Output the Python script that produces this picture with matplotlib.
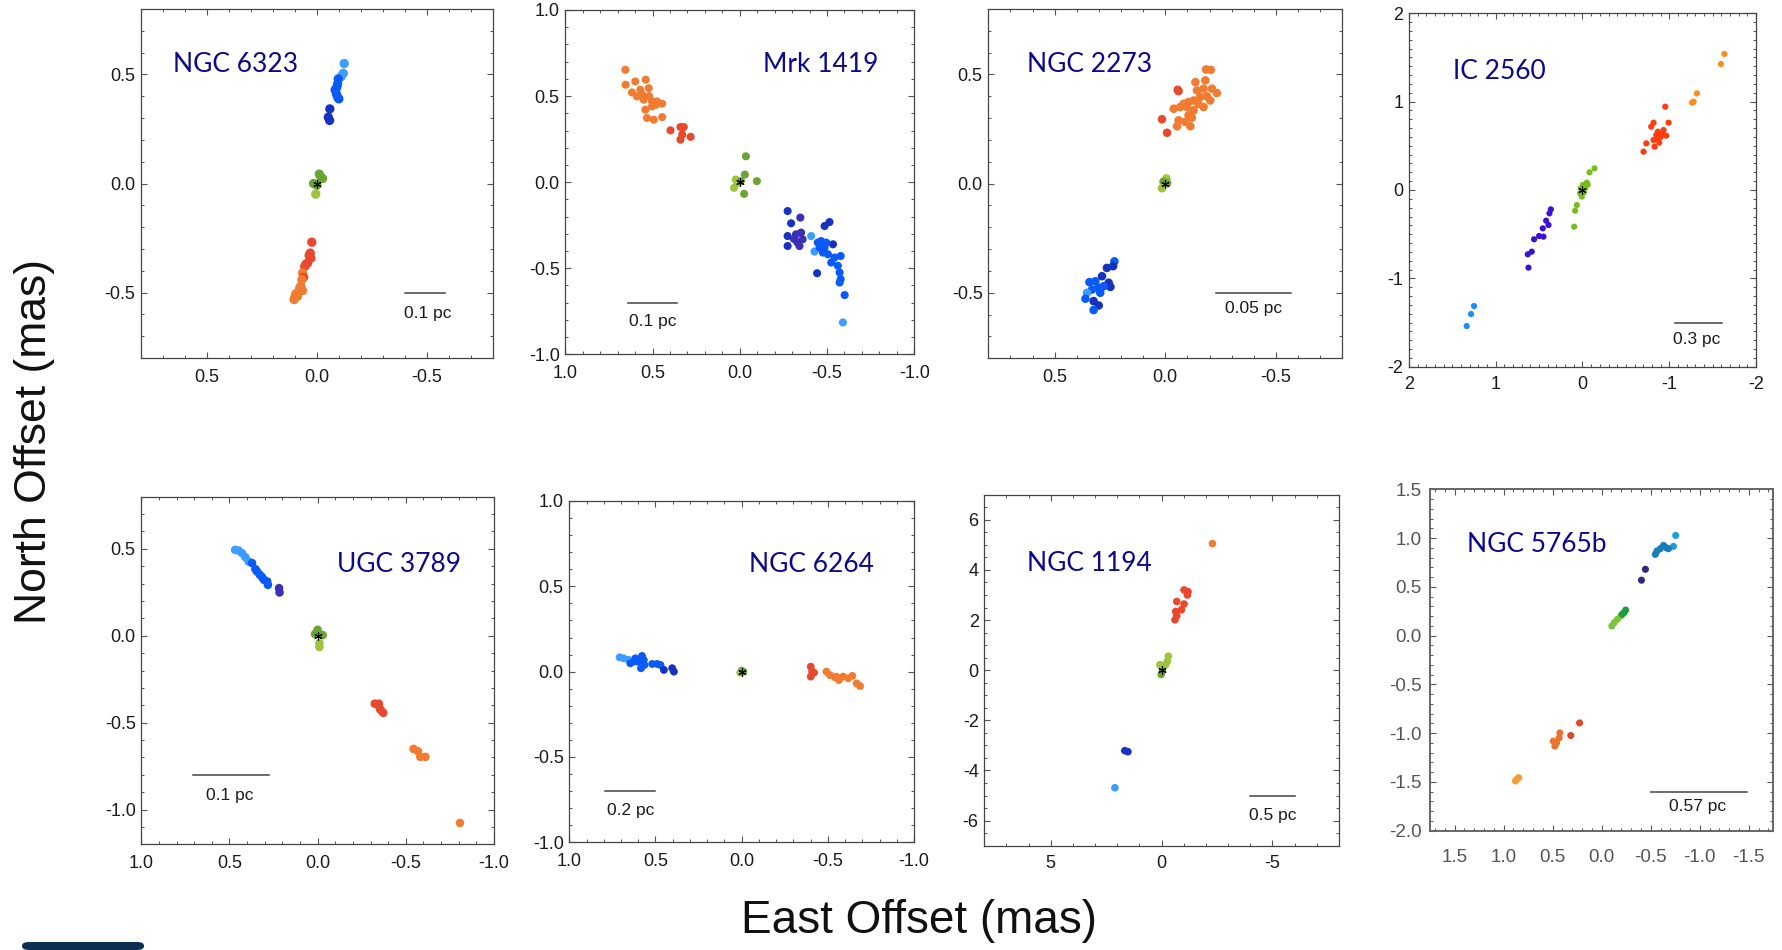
import numpy as np
import matplotlib
matplotlib.use('Agg')
import matplotlib.pyplot as plt
from matplotlib.ticker import MultipleLocator, FormatStrFormatter
from matplotlib.patches import FancyBboxPatch

plt.rcParams['font.family'] = ['Liberation Sans', 'DejaVu Sans']
plt.rcParams['axes.unicode_minus'] = False

W, H = 1783, 950

# colour codes used by the maser spots (velocity groups)
PALETTE = {
    'lb': '#3d9cff', 'b': '#0a5af5', 'db': '#1632c0', 'pu': '#3a30b5',
    'g': '#6aa533', 'lg': '#9ec43c', 'r': '#e8482b', 'o': '#f07c32',
    'vr': '#ff3c0f', 'vo': '#ff8c1e', 'vp': '#3a12d2', 'vb': '#1e8cff', 'vg': '#79bd1c',
    'tb': '#1aa0dc', 'tbd': '#1a7cbc', 'nv': '#2a2a80', 'dg': '#1f9a3c', 'mg': '#7cc23e',
    'rd8': '#e0482a', 'or8': '#e8742e', 'yo8': '#f0a035',
}

# ---- NGC 6323
ngc6323_east = [-0.124, -0.12, -0.11, -0.097, -0.094, -0.083, -0.089, -0.09, -0.1, -0.095,
                -0.059, -0.052, -0.058,
                -0.011, -0.026, 0.015, 0.0, 0.005, -0.018,
                0.023, 0.030, 0.027, 0.035, 0.042, 0.05, 0.055, 0.065, 0.06, 0.068,
                0.073, 0.078, 0.065, 0.095, 0.103, 0.088, 0.1]
ngc6323_north = [0.55, 0.505, 0.49, 0.479, 0.456, 0.429, 0.41, 0.44, 0.388, 0.395,
                 0.342, 0.304, 0.289,
                 0.043, 0.023, 0.0, -0.008, -0.049, 0.03,
                 -0.269, -0.319, -0.342, -0.33, -0.365, -0.37, -0.38, -0.41, -0.43, -0.441,
                 -0.471, -0.48, -0.491, -0.505, -0.532, -0.517, -0.52]
ngc6323_kind = ['lb', 'lb', 'lb', 'b', 'b', 'b', 'b', 'b', 'b', 'b',
                'db', 'db', 'db',
                'g', 'g', 'g', 'g', 'lg', 'g',
                'r', 'r', 'r', 'r', 'r', 'r', 'r', 'o', 'r', 'o',
                'o', 'o', 'o', 'o', 'o', 'o', 'o']

# ---- Mrk 1419
mrk1419_east = [0.656, 0.654, 0.599, 0.539, 0.618, 0.570, 0.522, 0.589, 0.551, 0.503, 0.474,
                0.445, 0.541, 0.503, 0.532, 0.493, 0.445, 0.56, 0.52, 0.48,
                0.397, 0.34, 0.321, 0.34, 0.282, 0.33,
                -0.035, -0.029, -0.098, -0.025, 0.023, 0.033, 0.013, -0.006,
                -0.274, -0.294, -0.347, -0.274, -0.274, -0.322, -0.351, -0.342, -0.36,
                -0.409, -0.428, -0.443, -0.486, -0.514, -0.466, -0.486, -0.505, -0.534,
                -0.543, -0.562, -0.578, -0.572, -0.578, -0.572, -0.601, -0.591,
                -0.457, -0.476, -0.524, -0.495, -0.447, -0.31, -0.33]
mrk1419_north = [0.653, 0.566, 0.585, 0.595, 0.521, 0.537, 0.546, 0.498, 0.479, 0.469, 0.469,
                 0.456, 0.421, 0.44, 0.373, 0.363, 0.378, 0.51, 0.5, 0.45,
                 0.301, 0.32, 0.32, 0.247, 0.263, 0.276,
                 0.15, 0.044, 0.006, -0.068, 0.015, -0.033, -0.004, 0.006,
                 -0.168, -0.239, -0.206, -0.313, -0.371, -0.303, -0.293, -0.371, -0.332,
                 -0.313, -0.403, -0.529, -0.255, -0.232, -0.342, -0.38, -0.419, -0.361,
                 -0.438, -0.486, -0.429, -0.525, -0.564, -0.583, -0.656, -0.815,
                 -0.38, -0.409, -0.467, -0.351, -0.351, -0.33, -0.35]
mrk1419_kind = ['o'] * 20 + ['r'] * 6 + ['g', 'g', 'g', 'g', 'lg', 'lg', 'lg', 'g'] + \
               ['db', 'db', 'pu', 'db', 'db', 'pu', 'pu', 'pu', 'pu',
                'lb', 'lb', 'db', 'db', 'db', 'b', 'b', 'b', 'db',
                'b', 'b', 'b', 'b', 'b', 'b', 'b', 'lb',
                'b', 'b', 'b', 'b', 'b', 'pu', 'pu']

# ---- NGC 2273
ngc2273_east = [-0.184, -0.206, -0.136, -0.181, -0.173, -0.211, -0.233, -0.203, -0.158, -0.128,
                -0.105, -0.083, -0.06, -0.056, -0.038, -0.068, -0.098, -0.128, -0.105, -0.12,
                -0.06, -0.09, -0.053, -0.113, 0.015, -0.008, -0.15, -0.173, -0.188, -0.143,
                -0.005, 0.008, 0.015, -0.008,
                0.23, 0.236, 0.264, 0.286, 0.256, 0.248, 0.316, 0.343, 0.301, 0.331,
                0.354, 0.361, 0.324, 0.301, 0.324, 0.279, 0.294]
ngc2273_north = [0.523, 0.521, 0.465, 0.473, 0.435, 0.435, 0.415, 0.381, 0.397, 0.381,
                 0.374, 0.366, 0.424, 0.43, 0.343, 0.351, 0.351, 0.336, 0.313, 0.302,
                 0.29, 0.283, 0.263, 0.263, 0.295, 0.233, 0.366, 0.351, 0.4, 0.427,
                 0.024, 0.009, -0.021, 0.002,
                 -0.356, -0.378, -0.386, -0.424, -0.454, -0.473, -0.447, -0.451, -0.477, -0.485,
                 -0.5, -0.527, -0.538, -0.558, -0.579, -0.47, -0.5]
ngc2273_kind = ['o'] * 12 + ['r', 'r'] + ['o'] * 10 + ['r', 'r'] + ['o'] * 4 + \
               ['lg', 'g', 'lg', 'g'] + \
               ['b', 'db', 'db', 'db', 'db', 'db', 'b', 'b', 'b', 'b',
                'lb', 'b', 'db', 'db', 'b', 'b', 'b']

# ---- IC 2560
ic2560_east = [-1.635, -1.596, -1.319, -1.281, -1.262,
               -0.954, -0.819, -0.792, -0.992, -0.935, -0.915, -0.869, -0.85, -0.965,
               -0.858, -0.819, -0.885, -0.831, -0.735, -0.704, -0.9,
               -0.138, -0.081, -0.05, -0.004, 0.019, -0.012, 0.008, 0.065, 0.085, 0.096,
               -0.031, 0.027, -0.06,
               0.365, 0.381, 0.419, 0.392, 0.458, 0.45, 0.5, 0.558, 0.585, 0.631, 0.623,
               1.25, 1.285, 1.335]
ic2560_north = [1.54, 1.426, 1.094, 1.0, 0.989,
                0.943, 0.762, 0.717, 0.762, 0.679, 0.634, 0.66, 0.623, 0.615,
                0.585, 0.566, 0.536, 0.491, 0.528, 0.434, 0.6,
                0.245, 0.2, 0.083, 0.057, 0.019, -0.03, -0.075, -0.17, -0.234, -0.415,
                0.019, -0.038, 0.06,
                -0.219, -0.264, -0.347, -0.396, -0.434, -0.528, -0.521, -0.558, -0.698,
                -0.728, -0.879,
                -1.313, -1.404, -1.54]
ic2560_kind = ['vo'] * 5 + ['vr'] * 16 + ['vg'] * 13 + ['vp'] * 11 + ['vb'] * 3

# ---- UGC 3789
ugc3789_east = [0.468, 0.448, 0.429, 0.41, 0.391, 0.372, 0.353, 0.344, 0.328, 0.315, 0.305,
                0.286, 0.282, 0.219, 0.216,
                0.0, 0.015, -0.029, -0.01, -0.01,
                -0.324, -0.347, -0.353, -0.372, -0.36,
                -0.544, -0.569, -0.582, -0.611, -0.807]
ugc3789_north = [0.494, 0.49, 0.475, 0.452, 0.427, 0.418, 0.383, 0.37, 0.351, 0.337, 0.322,
                 0.312, 0.293, 0.274, 0.249,
                 0.034, 0.01, 0.004, -0.042, -0.065,
                 -0.391, -0.391, -0.421, -0.444, -0.43,
                 -0.651, -0.665, -0.697, -0.697, -1.077]
ugc3789_kind = ['lb', 'lb', 'lb', 'lb', 'lb', 'b', 'b', 'b', 'b', 'b', 'b', 'b', 'b',
                'pu', 'pu',
                'g', 'g', 'g', 'lg', 'lg',
                'r', 'r', 'r', 'r', 'r',
                'o', 'o', 'o', 'o', 'o']

# ---- NGC 6264
ngc6264_east = [0.708, 0.685, 0.656, 0.646, 0.617, 0.603, 0.578, 0.568, 0.584, 0.564, 0.626,
                0.519, 0.49, 0.471, 0.451, 0.403, 0.393,
                0.0, 0.008, -0.01,
                -0.401, -0.409, -0.401, -0.42,
                -0.492, -0.512, -0.541, -0.564, -0.589, -0.619, -0.642, -0.667, -0.687, -0.55]
ngc6264_north = [0.084, 0.078, 0.069, 0.049, 0.078, 0.059, 0.092, 0.069, 0.02, 0.039, 0.059,
                 0.045, 0.045, 0.039, 0.01, 0.02, 0.0,
                 0.006, -0.006, 0.0,
                 0.029, 0.0, -0.029, -0.006,
                 0.0, -0.02, -0.033, -0.049, -0.029, -0.039, -0.025, -0.069, -0.084, -0.03]
ngc6264_kind = ['lb', 'lb', 'lb', 'b', 'b', 'b', 'b', 'b', 'b', 'b', 'b',
                'b', 'b', 'b', 'db', 'db', 'db',
                'g', 'lg', 'g',
                'r', 'r', 'r', 'r',
                'o', 'o', 'o', 'o', 'o', 'o', 'o', 'o', 'o', 'o']

# ---- NGC 1194
ngc1194_east = [-2.29,
                -1.01, -1.19, -1.16, -0.68, -1.01, -0.89, -0.63, -0.68, -0.6,
                -0.3, -0.26, -0.18, 0.08, -0.03, 0.02,
                1.66, 1.52, 2.11]
ngc1194_north = [5.05,
                 3.2, 3.13, 3.0, 2.74, 2.64, 2.41, 2.34, 2.17, 2.01,
                 0.56, 0.36, 0.22, 0.22, -0.04, -0.17,
                 -3.21, -3.25, -4.69]
ngc1194_kind = ['o'] + ['r'] * 9 + ['lg', 'lg', 'lg', 'lg', 'g', 'g'] + ['db', 'db', 'lb']

# ---- NGC 5765b
ngc5765b_east = [-0.755, -0.732, -0.681, -0.631, -0.597, -0.564, -0.547, -0.66,
                 -0.446, -0.406,
                 -0.245, -0.228, -0.195, -0.161, -0.128, -0.104, -0.21,
                 0.225, 0.315, 0.426, 0.433, 0.493, 0.46, 0.477,
                 0.846, 0.879, 0.862]
ngc5765b_north = [1.027, 0.915, 0.891, 0.925, 0.891, 0.867, 0.833, 0.9,
                  0.68, 0.568,
                  0.262, 0.235, 0.201, 0.167, 0.133, 0.099, 0.22,
                  -0.895, -1.024, -0.997, -1.048, -1.082, -1.099, -1.133,
                  -1.456, -1.49, -1.47]
ngc5765b_kind = ['tb', 'tb', 'tbd', 'tbd', 'tbd', 'tbd', 'tbd', 'tbd',
                 'nv', 'nv',
                 'dg', 'dg', 'mg', 'mg', 'mg', 'mg', 'dg',
                 'rd8', 'rd8', 'or8', 'or8', 'or8', 'or8', 'or8',
                 'yo8', 'yo8', 'yo8']

NAME_COLOR = '#0a0a8c'

fig = plt.figure(figsize=(W / 100, H / 100), dpi=100)


def panel(box, east, north, kind, name, name_pos, xlim, ylim, xmaj, xmin, ymaj, ymin,
          bar, bar_text, fmt='%.1f', size=30, gray=False, xpad=8, ypad=4):
    left, right, top, bottom = box
    ax = fig.add_axes([left / W, 1 - bottom / H, (right - left) / W, (bottom - top) / H])
    col = [PALETTE[k] for k in kind]
    ax.scatter(east, north, s=size, c=col, edgecolors='none', zorder=2)
    if not gray:
        ax.plot(0, 0, marker=(6, 2, 0), color='k', ms=6, mew=0.8, zorder=3)
    ax.set_xlim(*xlim)
    ax.set_ylim(*ylim)
    ax.xaxis.set_major_locator(MultipleLocator(xmaj))
    ax.xaxis.set_minor_locator(MultipleLocator(xmin))
    ax.yaxis.set_major_locator(MultipleLocator(ymaj))
    ax.yaxis.set_minor_locator(MultipleLocator(ymin))
    ax.xaxis.set_major_formatter(FormatStrFormatter(fmt))
    ax.yaxis.set_major_formatter(FormatStrFormatter(fmt))
    tc = '#555555' if gray else '#1a1a1a'
    fs = 13.5 if gray else 13
    ax.tick_params(which='both', direction='in', top=True, right=True, colors='#555555',
                   labelcolor=tc, labelsize=fs)
    ax.tick_params(axis='x', which='major', pad=xpad)
    ax.tick_params(axis='y', which='major', pad=ypad)
    ax.tick_params(which='major', length=4.5, width=0.8)
    ax.tick_params(which='minor', length=2.5, width=0.7)
    for s in ax.spines.values():
        s.set_color('#666666' if gray else '#444444')
        s.set_linewidth(1.4 if gray else 0.9)
    (bx0, bx1, by), (tx, ty, txt) = bar, bar_text
    ax.plot([bx0, bx1], [by, by], color='#444444', lw=1.1)
    ax.text(tx, ty, txt, ha='center', va='center', fontsize=12.5, color='#1a1a1a')
    ax.text(name_pos[0], name_pos[1], name, transform=ax.transAxes, ha='left', va='center',
            fontsize=19, color=NAME_COLOR, family=['Lato', 'DejaVu Sans'])
    return ax


panel((140.7, 493, 9, 358), ngc6323_east, ngc6323_north, ngc6323_kind, 'NGC 6323',
      (0.091, 0.84), (0.8, -0.8), (-0.8, 0.8), 0.5, 0.1, 0.5, 0.1,
      (-0.4, -0.58, -0.5), (-0.503, -0.594, '0.1 pc'), size=45)
panel((565.3, 914.3, 10, 354.3), mrk1419_east, mrk1419_north, mrk1419_kind, 'Mrk 1419',
      (0.566, 0.843), (1.0, -1.0), (-1.0, 1.0), 0.5, 0.1, 0.5, 0.1,
      (0.642, 0.362, -0.7), (0.5, -0.81, '0.1 pc'), size=34)
panel((988.3, 1342.3, 9, 358.3), ngc2273_east, ngc2273_north, ngc2273_kind, 'NGC 2273',
      (0.108, 0.842), (0.8, -0.8), (-0.8, 0.8), 0.5, 0.1, 0.5, 0.1,
      (-0.227, -0.567, -0.5), (-0.398, -0.573, '0.05 pc'), size=38)
panel((1409, 1756, 13.3, 366.7), ic2560_east, ic2560_north, ic2560_kind, 'IC 2560',
      (0.126, 0.835), (2, -2), (-2, 2), 1, 0.1, 1, 0.1,
      (-1.072, -1.61, -1.5), (-1.314, -1.69, '0.3 pc'), fmt='%d', size=20, xpad=7)
panel((141.3, 494, 496.7, 844.3), ugc3789_east, ugc3789_north, ugc3789_kind, 'UGC 3789',
      (0.556, 0.806), (1.0, -1.0), (-1.2, 0.8), 0.5, 0.1, 0.5, 0.1,
      (0.705, 0.275, -0.8), (0.496, -0.918, '0.1 pc'), size=38)
panel((569.3, 914, 501, 842.3), ngc6264_east, ngc6264_north, ngc6264_kind, 'NGC 6264',
      (0.522, 0.815), (1.0, -1.0), (-1.0, 1.0), 0.5, 0.1, 0.5, 0.1,
      (0.79, 0.503, -0.7), (0.643, -0.816, '0.2 pc'), size=32)
panel((984.3, 1339, 494.7, 845.7), ngc1194_east, ngc1194_north, ngc1194_kind, 'NGC 1194',
      (0.121, 0.803), (8, -8), (-7, 7), 5, 1, 2, 0.5,
      (-3.99, -6.02, -5.0), (-5.0, -5.79, '0.5 pc'), fmt='%d', size=30, xpad=7)
panel((1430, 1773.3, 489.3, 830.7), ngc5765b_east, ngc5765b_north, ngc5765b_kind, 'NGC 5765b',
      (0.107, 0.837), (1.75, -1.75), (-2.0, 1.5), 0.5, 0.1, 0.5, 0.1,
      (-0.5, -1.485, -1.6), (-0.98, -1.75, '0.57 pc'), size=26, gray=True, xpad=13, ypad=6)

fig.text(35 / W, 1 - 441 / H, 'North Offset (mas)', rotation=90, ha='center', va='center',
         fontsize=32, color='#111111')
fig.text(919 / W, 1 - 921 / H, 'East Offset (mas)', ha='center', va='center',
         fontsize=33, color='#111111')

# small dark tab left over in the lower-left corner of the composite
fig.patches.append(FancyBboxPatch((22 / W, 0), 122 / W, 8 / H, boxstyle='round,pad=0,rounding_size=0.004',
                                  transform=fig.transFigure, facecolor='#0d2d52', edgecolor='none'))

fig.savefig('out.png', dpi=100)
